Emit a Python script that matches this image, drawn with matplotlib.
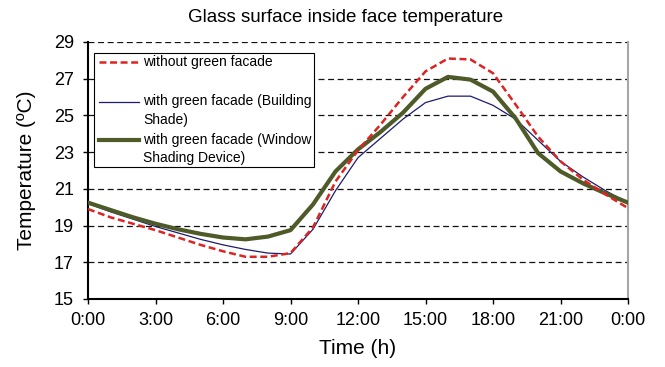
import matplotlib
matplotlib.use("Agg")
import matplotlib.pyplot as plt
from matplotlib.lines import Line2D
from matplotlib.patches import Rectangle

plt.rcParams["font.family"] = ["Liberation Sans", "DejaVu Sans"]
plt.rcParams["lines.scale_dashes"] = False

hours = list(range(25))
tick_hours = [0, 3, 6, 9, 12, 15, 18, 21, 24]
tick_labels = ["0:00", "3:00", "6:00", "9:00", "12:00", "15:00", "18:00", "21:00", "0:00"]
y_ticks = [15, 17, 19, 21, 23, 25, 27, 29]

without_facade = [19.9, 19.45, 19.1, 18.75, 18.35, 17.95, 17.6, 17.3, 17.3, 17.5,
                  18.9, 21.4, 23.1, 24.5, 26.0, 27.4, 28.1, 28.05, 27.3, 25.6,
                  23.85, 22.5, 21.5, 20.7, 19.95]
building_shade = [20.2, 19.75, 19.35, 18.95, 18.6, 18.25, 17.95, 17.7, 17.5, 17.45,
                  18.8, 20.9, 22.7, 23.75, 24.8, 25.7, 26.05, 26.05, 25.55, 24.8,
                  23.65, 22.5, 21.65, 20.9, 20.25]
window_shading = [20.25, 19.85, 19.45, 19.1, 18.8, 18.55, 18.35, 18.25, 18.4, 18.75,
                  20.15, 21.95, 23.15, 24.1, 25.15, 26.45, 27.1, 26.95, 26.3, 24.85,
                  22.95, 21.95, 21.3, 20.75, 20.25]

RED = "#dc2423"
BLUE = "#1c1c6e"
GREEN = "#4f5a29"

W, H = 665, 367
fig = plt.figure(figsize=(W / 100, H / 100), dpi=100)
ax = fig.add_axes([88 / W, 1 - 299 / H, 540 / W, 257 / H])


def px(x, y):
    return x / W, 1 - y / H


# horizontal dashed grid
for yv in y_ticks[1:]:
    ax.axhline(yv, color="#111111", lw=0.9, linestyle=(0, (4.3, 2.6)), zorder=1)

ax.plot(hours, building_shade, color=BLUE, lw=0.9, zorder=3)
ax.plot(hours, window_shading, color=GREEN, lw=3.0, zorder=3, solid_joinstyle="round")
ax.plot(hours, without_facade, color=RED, lw=1.8, linestyle=(0, (5.0, 2.6)), zorder=4)

ax.set_xlim(0, 24)
ax.set_ylim(15, 29)
ax.set_xticks(tick_hours)
ax.set_xticklabels(tick_labels)
ax.set_yticks(y_ticks)

ax.spines["top"].set_visible(False)
ax.spines["right"].set_color("#a6a6a6")
ax.spines["right"].set_linewidth(1.5)
ax.spines["left"].set_linewidth(1.5)
ax.spines["bottom"].set_linewidth(1.5)
ax.tick_params(axis="both", direction="out", length=3.6, width=1.0, labelsize=13)
ax.tick_params(axis="x", pad=6)
ax.tick_params(axis="y", pad=6.5)

ax.set_xlabel("Time (h)", fontsize=15, labelpad=7)
ax.set_ylabel("Temperature (ºC)", fontsize=15, labelpad=13)

fig.text(346 / W, 1 - 18 / H, "Glass surface inside face temperature",
         ha="center", va="center", fontsize=13.5)

# legend box
x0, y0 = px(94, 167.3)
x1, y1 = px(314, 52.7)
fig.patches.append(Rectangle((x0, y0), x1 - x0, y1 - y0, transform=fig.transFigure,
                             facecolor="white", edgecolor="black", lw=0.8, zorder=5))

entries = [
    (62.3, 62.3, "without green facade", RED, 1.8, (0, (5.0, 2.6))),
    (101.7, 110.5, "with green facade (Building\nShade)", BLUE, 0.9, "-"),
    (140.0, 149.1, "with green facade (Window\nShading Device)", GREEN, 3.0, "-"),
]
for hy, ty, label, color, lw, ls in entries:
    a, b = px(99, hy)
    c, _ = px(139, hy)
    fig.lines.append(Line2D([a, c], [b, b], transform=fig.transFigure, color=color,
                            lw=lw, linestyle=ls, zorder=6))
    tx, tyy = px(143.3, ty)
    fig.text(tx, tyy, label, ha="left", va="center", fontsize=10, linespacing=1.4, zorder=6)

fig.savefig("out.png", dpi=100)
